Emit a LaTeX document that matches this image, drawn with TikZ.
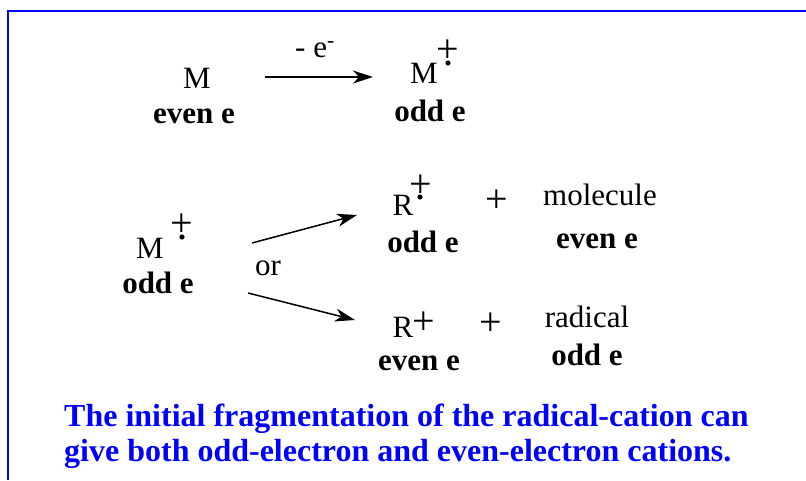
\documentclass[tikz,border=0pt]{standalone}
\usepackage{fontspec}
\setmainfont{Liberation Serif}
\usetikzlibrary{arrows.meta}
\newcommand{\chem}{\fontsize{31}{31}\selectfont}
\newcommand{\note}{\fontsize{32}{35}\selectfont\bfseries}
\definecolor{capblue}{RGB}{0,0,255}
\tikzset{>={Stealth[length=20pt,width=13pt,inset=6pt]},every node/.style={font=\chem,inner sep=0pt},sp/.style={anchor=base},el/.style={anchor=base,font=\chem\bfseries},pls/.style={font=\fontsize{40}{40}\selectfont},rxn/.style={line width=1.5pt,->},frame/.style={draw=capblue,line width=1.6pt},concl/.style={anchor=base west,font=\note,text=capblue}}

\begin{document}
\begin{tikzpicture}[x=1pt,y=-1pt]
\useasboundingbox (0,0) rectangle (806,480);
\draw[frame] (806,11)--(8,11)--(8,480);
% ionisation M -> M+.
\node[sp] (M0) at (197,88){M};
\node[el] (M0e) at (194,123){even e};
\node[sp] (M1) at (424,83){M};
\node[pls] (M1p) at (448,51){+};\fill (448,63) circle (2.6);
\node[el] (M1e) at (430,121){odd e};
\node[sp] (loss) at (315,57){- e\textsuperscript{-}};
\coordinate (i0) at (265,77);\coordinate (i1) at (373,77);
\draw[rxn] (i0)--(i1);
% two ways of fragmentation
\node[sp] (M2) at (150,258){M};
\node[pls] (M2p) at (182,225){+};\fill (182,237) circle (2.6);
\node[el] (M2e) at (158,293){odd e};
\node[sp] (or) at (268,275){or};
\coordinate (u0) at (252,243);\coordinate (u1) at (357,215);
\coordinate (d0) at (248,293);\coordinate (d1) at (355,320);
\draw[rxn] (u0)--(u1);\draw[rxn] (d0)--(d1);
\node[sp] (R1) at (403,215){R};
\node[pls] (R1p) at (421,186){+};\fill (420,197) circle (2.6);
\node[el] (R1e) at (423,252){odd e};
\node[pls] (pl1) at (497,201){+};
\node[sp] (mol) at (600,205){molecule};
\node[el] (mole) at (597,248){even e};
\node[sp] (R2) at (403,337){R};
\node[pls] (R2p) at (424,323){+};
\node[el] (R2e) at (419,370){even e};
\node[pls] (pl2) at (491,324){+};
\node[sp] (rad) at (587,327){radical};
\node[el] (rade) at (587,365){odd e};
% conclusion
\node[concl] (cap1) at (64,426){The initial fragmentation of the radical-cation can};
\node[concl] (cap2) at (64,461){give both odd-electron and even-electron cations.};
\end{tikzpicture}
\end{document}
